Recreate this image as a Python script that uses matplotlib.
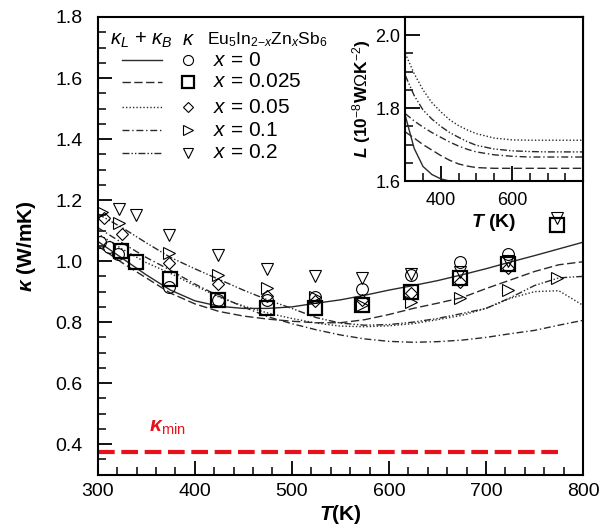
import matplotlib
matplotlib.use('Agg')
import matplotlib.pyplot as plt
from matplotlib.ticker import MultipleLocator, FixedLocator

plt.rcParams['font.family'] = ['Liberation Sans', 'DejaVu Sans']
plt.rcParams['mathtext.fontset'] = 'custom'
plt.rcParams['mathtext.rm'] = 'Liberation Sans'
plt.rcParams['mathtext.it'] = 'Liberation Sans:italic'
plt.rcParams['mathtext.bf'] = 'Liberation Sans:bold:italic'

# fitted kappa_L + kappa_B curves
T_fit = [300, 325, 350, 375, 400, 425, 450, 475, 500, 525, 550,
         575, 600, 625, 650, 675, 700, 725, 750, 775, 800]
fit_x0 = [1.065, 1.01, 0.955, 0.905, 0.87, 0.852, 0.845, 0.845, 0.85, 0.862, 0.873,
          0.888, 0.905, 0.92, 0.936, 0.955, 0.975, 0.997, 1.018, 1.04, 1.062]
fit_x0025 = [1.05, 0.995, 0.945, 0.895, 0.86, 0.835, 0.82, 0.81, 0.803, 0.798, 0.798,
             0.808, 0.825, 0.845, 0.862, 0.88, 0.91, 0.938, 0.966, 0.988, 0.998]
fit_x005 = [1.09, 1.04, 0.995, 0.96, 0.92, 0.882, 0.853, 0.83, 0.812, 0.797, 0.787,
            0.785, 0.788, 0.795, 0.808, 0.822, 0.845, 0.878, 0.9, 0.903, 0.855]
fit_x01 = [1.11, 1.06, 1.012, 0.97, 0.925, 0.885, 0.85, 0.818, 0.795, 0.775, 0.758,
           0.745, 0.737, 0.734, 0.736, 0.741, 0.75, 0.762, 0.773, 0.79, 0.806]
fit_x02 = [1.155, 1.11, 1.06, 1.012, 0.975, 0.94, 0.905, 0.873, 0.845, 0.815, 0.797,
           0.79, 0.792, 0.8, 0.812, 0.828, 0.845, 0.88, 0.92, 0.945, 0.95]

# measured kappa
T_c = [302, 312, 321, 373, 424, 474, 524, 572, 623, 673, 723]
k_c = [1.062, 1.046, 1.022, 0.915, 0.872, 0.871, 0.882, 0.907, 0.955, 0.997, 1.024]
T_s = [324, 339, 374, 424, 474, 524, 572, 623, 673, 723, 773]
k_s = [1.032, 0.997, 0.940, 0.874, 0.846, 0.845, 0.857, 0.898, 0.944, 0.991, 1.117]
T_d = [307, 325, 373, 424, 474, 524, 572, 623, 673, 723]
k_d = [1.141, 1.090, 0.993, 0.926, 0.886, 0.869, 0.874, 0.896, 0.931, 0.978]
T_r = [304, 322, 373, 424, 474, 524, 572, 623, 673, 723, 773]
k_r = [1.160, 1.125, 1.026, 0.955, 0.911, 0.884, 0.855, 0.866, 0.879, 0.904, 0.946]
T_v = [322, 339, 373, 424, 474, 524, 572, 623, 673, 723, 773]
k_v = [1.172, 1.150, 1.084, 1.020, 0.973, 0.951, 0.946, 0.958, 0.965, 1.002, 1.141]

kappa_min = 0.375
T_min = [300, 780]

# Lorenz number (inset)
T_L = [300, 325, 350, 375, 400, 425, 450, 475, 500, 550, 600, 650, 700, 750, 800]
L_x0 = [1.78, 1.69, 1.64, 1.618, 1.606, 1.600, 1.597, 1.596, 1.595, 1.594, 1.594,
        1.594, 1.594, 1.594, 1.594]
L_x0025 = [1.735, 1.718, 1.70, 1.685, 1.67, 1.657, 1.647, 1.641, 1.637, 1.635, 1.635,
           1.635, 1.635, 1.635, 1.635]
L_x005 = [1.95, 1.895, 1.85, 1.815, 1.79, 1.768, 1.752, 1.74, 1.73, 1.718, 1.713,
          1.712, 1.712, 1.712, 1.712]
L_x01 = [1.785, 1.765, 1.748, 1.733, 1.72, 1.707, 1.696, 1.687, 1.68, 1.672, 1.668,
         1.666, 1.666, 1.666, 1.666]
L_x02 = [1.89, 1.835, 1.795, 1.77, 1.75, 1.733, 1.72, 1.708, 1.698, 1.688, 1.683,
         1.681, 1.68, 1.68, 1.68]

labels = ['0', '0.025', '0.05', '0.1', '0.2']
styles = ['-', (0, (6, 2.5)), (0, (1, 1.5)), (0, (5, 2, 1, 2)), (0, (5, 1.5, 1, 1.5, 1, 1.5))]
markers = ['o', 's', 'D', '>', 'v']
msizes = [8.5, 10, 6.5, 8.5, 8.5]
mews = [0.8, 1.6, 0.8, 0.8, 0.8]
lc = '#2a2a2a'


def style_axis(ax, size=13):
    for s in ax.spines.values():
        s.set_linewidth(1.5)
    ax.tick_params(which='both', direction='in', top=False, right=False, labelsize=size)
    ax.tick_params(which='major', length=10, width=1.3)
    ax.tick_params(which='minor', length=5.5, width=1.1)


fig = plt.figure(figsize=(6.03, 5.31), dpi=100)
ax = fig.add_axes([0.162, 0.106, 0.805, 0.862])

fits = [fit_x0, fit_x0025, fit_x005, fit_x01, fit_x02]
for y, ls in zip(fits, styles):
    ax.plot(T_fit, y, color=lc, lw=1.0, linestyle=ls)

data = [(T_c, k_c), (T_s, k_s), (T_d, k_d), (T_r, k_r), (T_v, k_v)]
for (t, k), m, ms, mw in zip(data, markers, msizes, mews):
    ax.plot(t, k, linestyle='none', marker=m, ms=ms, mfc='none', mec='black', mew=mw)

ax.plot(T_min, [kappa_min, kappa_min], color='#e8101a', lw=3, linestyle=(0, (4, 1.6)))
ax.text(0.105, 0.095, r'$\mathbf{\kappa}_{\mathrm{min}}$', transform=ax.transAxes,
        color='#e8101a', fontsize=15, fontweight='bold')

ax.set_xlim(300, 800)
ax.set_ylim(0.3, 1.8)
ax.xaxis.set_major_locator(MultipleLocator(100))
ax.xaxis.set_minor_locator(MultipleLocator(20))
ax.yaxis.set_major_locator(MultipleLocator(0.2))
ax.yaxis.set_minor_locator(MultipleLocator(0.05))
ax.yaxis.set_major_formatter(plt.FormatStrFormatter('%.1f'))
style_axis(ax, 14)
ax.tick_params(axis='x', pad=6)
ax.tick_params(axis='y', pad=11)
ax.set_xlabel(r'$\mathbf{T}$(K)', fontsize=15, fontweight='bold', labelpad=2)
ax.set_ylabel(r'$\mathbf{\kappa}$ (W/mK)', fontsize=15, fontweight='bold', labelpad=12)

# hand made legend
ax.text(0.026, 0.95, r'$\kappa_L$ + $\kappa_B$', transform=ax.transAxes, fontsize=14.5, va='center')
ax.text(0.186, 0.95, r'$\kappa$', transform=ax.transAxes, fontsize=14.5, va='center', ha='center')
ax.text(0.225, 0.95, r'Eu$_5$In$_{2\mathrm{-}x}$Zn$_x$Sb$_6$', transform=ax.transAxes,
        fontsize=12.5, va='center')
rows = [0.906, 0.858, 0.803, 0.753, 0.703]
for yy, lab, ls, m, ms, mw in zip(rows, labels, styles, markers, msizes, mews):
    ax.plot([0.05, 0.133], [yy, yy], transform=ax.transAxes, color=lc, lw=1.0, linestyle=ls)
    ax.plot([0.186], [yy], transform=ax.transAxes, marker=m, ms=ms * 0.85, mfc='none',
            mec='black', mew=mw)
    ax.text(0.238, yy, r'$x$ = ' + lab, transform=ax.transAxes, fontsize=15, va='center')

# inset
axi = fig.add_axes([0.672, 0.659, 0.295, 0.309])
axi.set_facecolor('white')
L_all = [L_x0, L_x0025, L_x005, L_x01, L_x02]
for y, ls in zip(L_all, styles):
    axi.plot(T_L, y, color=lc, lw=1.0, linestyle=ls)
axi.set_xlim(300, 800)
axi.set_ylim(1.6, 2.05)
axi.xaxis.set_major_locator(FixedLocator([400, 600]))
axi.xaxis.set_minor_locator(MultipleLocator(50))
axi.yaxis.set_major_locator(MultipleLocator(0.2))
axi.yaxis.set_minor_locator(MultipleLocator(0.05))
axi.yaxis.set_major_formatter(plt.FormatStrFormatter('%.1f'))
style_axis(axi)
axi.tick_params(which='major', length=11)
axi.tick_params(which='minor', length=6)
axi.tick_params(axis='x', pad=8)
axi.set_xlabel(r'$\mathbf{T}$ (K)', fontsize=14, fontweight='bold', labelpad=2)
axi.set_ylabel(r'$\mathbf{L}$ (10$^{-8}$W$\Omega$K$^{-2}$)', fontsize=12.5, fontweight='bold',
               labelpad=2)

fig.savefig('out.png', dpi=100)
